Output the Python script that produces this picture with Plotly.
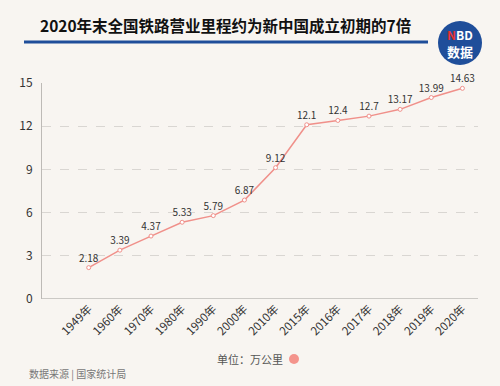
import plotly.graph_objects as go

years = ["1949年", "1960年", "1970年", "1980年", "1990年", "2000年", "2010年",
         "2015年", "2016年", "2017年", "2018年", "2019年", "2020年"]
mileage = [2.18, 3.39, 4.37, 5.33, 5.79, 6.87, 9.12, 12.1, 12.4, 12.7, 13.17, 13.99, 14.63]
y_ticks = [0, 3, 6, 9, 12, 15]

BG = "#f8f5f1"
LINE = "#f0908a"
FONT = "Noto Sans CJK SC"

fig = go.Figure()
fig.add_trace(go.Scatter(
    x=list(range(len(years))), y=mileage,
    mode="lines+markers+text",
    line=dict(color=LINE, width=1.5),
    marker=dict(size=4, color="white", line=dict(color=LINE, width=1)),
    text=[f"{v:g}" for v in mileage],
    textposition="top center",
    textfont=dict(size=10, color="#333333", family=FONT),
    cliponaxis=False,
    showlegend=False,
))

fig.update_layout(
    width=500, height=386,
    paper_bgcolor=BG, plot_bgcolor=BG,
    margin=dict(l=42, r=22, t=83, b=87),
    font=dict(family=FONT, color="#333333"),
    xaxis=dict(
        range=[-1.5, 12.5],
        tickmode="array", tickvals=list(range(len(years))), ticktext=years,
        tickangle=-45, tickfont=dict(size=11.5, color="#333333"),
        showgrid=False, zeroline=False, showline=False, ticks="",
    ),
    yaxis=dict(
        range=[0, 15], tickvals=y_ticks,
        tickfont=dict(size=12, color="#333333"),
        showgrid=True, gridcolor="#d9d6d2", griddash="dash", gridwidth=1,
        zeroline=False, showline=True, linecolor="#bdbab6", linewidth=1,
        ticks="", ticklabelstandoff=6,
    ),
    shapes=[
        dict(type="line", xref="paper", yref="y", x0=0, x1=1, y0=0, y1=0,
             line=dict(color="#bdbab6", width=1.5)),
        dict(type="line", xref="paper", yref="paper", x0=(24-42)/436, x1=(428-42)/436,
             y0=(299-42)/216, y1=(299-42)/216, line=dict(color="#1f4e9a", width=3)),
        dict(type="circle", xref="paper", yref="paper",
             x0=(438-42)/436, x1=(482-42)/436,
             y0=(299-65)/216, y1=(299-21)/216,
             fillcolor="#1f4e9a", line=dict(width=0)),
        dict(type="circle", xref="paper", yref="paper",
             x0=(289-42)/436, x1=(299-42)/436,
             y0=(299-364)/216, y1=(299-354)/216,
             fillcolor="#f4948c", line=dict(width=0)),
    ],
    annotations=[
        dict(text="<b>2020年末全国铁路营业里程约为新中国成立初期的7倍</b>",
             xref="paper", yref="paper", x=(225-42)/436, y=(299-25)/216,
             showarrow=False, font=dict(size=15.5, color="#111111", family=FONT),
             xanchor="center", yanchor="middle"),
        dict(text="<b><span style='color:#e8322e'>N</span>BD</b>",
             xref="paper", yref="paper", x=(460-42)/436, y=(299-35)/216,
             showarrow=False, font=dict(size=12, color="white", family=FONT),
             xanchor="center", yanchor="middle"),
        dict(text="<b>数据</b>",
             xref="paper", yref="paper", x=(460-42)/436, y=(299-51)/216,
             showarrow=False, font=dict(size=13, color="white", family=FONT),
             xanchor="center", yanchor="middle"),
        dict(text="单位：万公里",
             xref="paper", yref="paper", x=(285-42)/436, y=(299-359)/216,
             showarrow=False, font=dict(size=11, color="#555555", family=FONT),
             xanchor="right", yanchor="middle"),
        dict(text="数据来源 | 国家统计局",
             xref="paper", yref="paper", x=(27-42)/436, y=(299-373)/216,
             showarrow=False, font=dict(size=10, color="#777777", family=FONT),
             xanchor="left", yanchor="middle"),
    ],
)

fig.write_html("out.html", config={"displayModeBar": False},
               post_script="document.body.style.margin='0';document.body.style.overflow='hidden';document.body.style.background='%s';" % BG)
